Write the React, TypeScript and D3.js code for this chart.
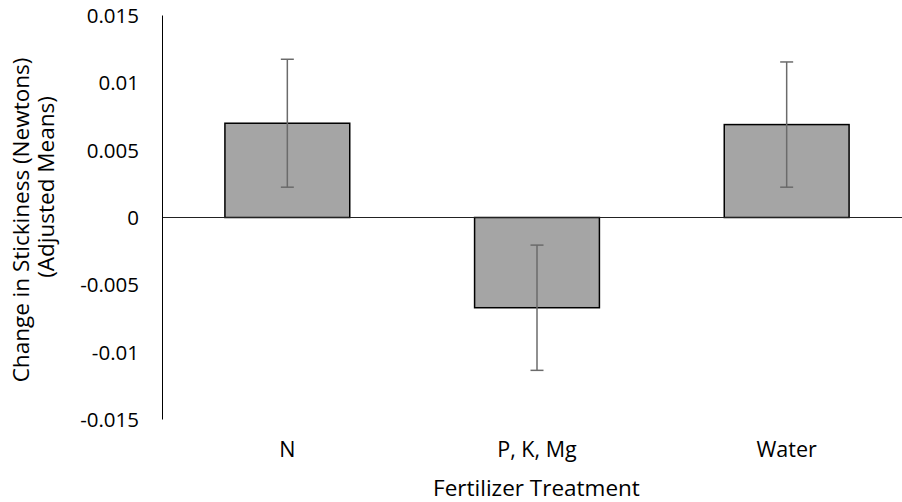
import React from "react";
import * as d3 from "d3";

const categories = ["N", "P, K, Mg", "Water"];
const means = [0.007, -0.0067, 0.0069];
const errors = [0.00475, 0.00465, 0.00465];
const yTicks = [0.015, 0.01, 0.005, 0, -0.005, -0.01, -0.015];
const yTickLabels = ["0.015", "0.01", "0.005", "0", "-0.005", "-0.01", "-0.015"];

const W = 902;
const H = 502;
const FONT = "'Open Sans', sans-serif";

export default function App() {
  const x = d3.scaleBand<string>().domain(categories).range([162.5, 911.5]).paddingInner(0.5).paddingOuter(0.25);
  const y = d3.scaleLinear().domain([-0.015, 0.015]).range([419.5, 15.5]);
  const bw = x.bandwidth();
  const cap = 6.5;
  return (
    <svg width={W} height={H} style={{ position: "absolute", left: 0, top: 0, background: "#fff" }} fontFamily={FONT}>
      {categories.map((c, i) => {
        const v = means[i];
        const x0 = x(c)!;
        const top = y(Math.max(0, v));
        const bot = y(Math.min(0, v));
        return (
          <rect key={c} x={x0} y={top} width={bw} height={bot - top} fill="#a5a5a5" stroke="#000" strokeWidth={1.5} />
        );
      })}
      <line x1={162.5} x2={W} y1={y(0)} y2={y(0)} stroke="#222" strokeWidth={1} />
      <line x1={162.5} x2={162.5} y1={y(0.015)} y2={y(-0.015)} stroke="#000" strokeWidth={1} />
      {categories.map((c, i) => {
        const cx = x(c)! + bw / 2;
        const hi = y(means[i] + errors[i]);
        const lo = y(means[i] - errors[i]);
        return (
          <g key={c} stroke="#6b6b6b" strokeWidth={1.5}>
            <line x1={cx} x2={cx} y1={hi} y2={lo} />
            <line x1={cx - cap} x2={cx + cap} y1={hi} y2={hi} />
            <line x1={cx - cap} x2={cx + cap} y1={lo} y2={lo} />
          </g>
        );
      })}
      {yTicks.map((t, i) => (
        <text key={t} x={139} y={y(t)} dy="0.36em" textAnchor="end" fontSize={20.5} fill="#000">
          {yTickLabels[i]}
        </text>
      ))}
      {categories.map((c) => (
        <text key={c} x={x(c)! + bw / 2} y={456.5} textAnchor="middle" fontSize={21.5} fill="#000">
          {c}
        </text>
      ))}
      <text x={536.5} y={495.5} textAnchor="middle" fontSize={22.5} fill="#000">
        Fertilizer Treatment
      </text>
      <g transform="rotate(-90)">
        <text x={-220} y={28.5} textAnchor="middle" fontSize={22.5} fill="#000">
          Change in Stickiness (Newtons)
        </text>
        <text x={-187} y={53.5} textAnchor="middle" fontSize={22.5} fill="#000">
          (Adjusted Means)
        </text>
      </g>
    </svg>
  );
}
